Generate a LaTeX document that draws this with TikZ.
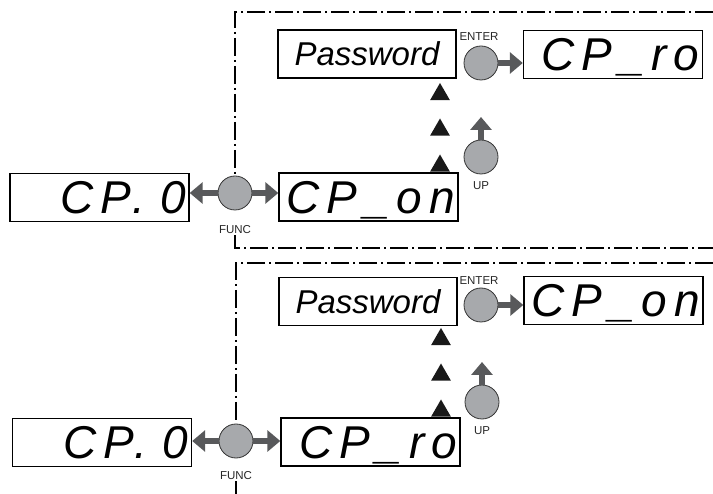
\documentclass[tikz,border=0pt]{standalone}
\usepackage{fontspec}
\setmainfont{Liberation Sans}
\newfontfamily\segfont[LetterSpace=15]{Liberation Sans}
\usetikzlibrary{arrows.meta,shapes.geometric}
\definecolor{btngray}{HTML}{A7A9AC}
\definecolor{arrowgray}{HTML}{58595B}

\begin{document}
\begin{tikzpicture}[x=1pt,y=-1pt,
	display/.style={draw,rectangle,line width=1.4pt,minimum width=179pt,minimum height=48pt,inner sep=3pt,text width=173pt,align=right,text height=33pt,text depth=0pt,font=\segfont\itshape\fontsize{46}{46}\selectfont},
	pwbox/.style={draw,rectangle,line width=1.4pt,minimum width=178pt,minimum height=48pt,font=\itshape\fontsize{33}{33}\selectfont},
	button/.style={draw=black!80,circle,line width=0.8pt,fill=btngray,minimum size=34pt,inner sep=0pt},
	btnlabel/.style={inner sep=1pt,text=black!85,font=\fontsize{11.5}{13}\selectfont},
	uptri/.style={regular polygon,regular polygon sides=3,fill=black!90,inner sep=0pt,minimum size=23pt},
	push/.style={draw=arrowgray,line width=5.5pt,-{Triangle[width=21pt,length=13pt]}},
	panelframe/.style={line width=1.2pt,dash pattern=on 18pt off 4pt on 2pt off 4pt}]
	\useasboundingbox (0,0) rectangle (713,494);

	\node[display] (CPzeroA) at (99.5,197.5) {CP. 0};
	\node[button] (FuncA) at (235,193) {};
	\node[btnlabel] (FuncLblA) at (235,230) {FUNC};
	\node[display] (CPonA) at (368.5,197) {CP\_on};
	\node[uptri] (triA1) at (440,94.5) {};
	\node[uptri] (triA2) at (440,130) {};
	\node[uptri] (triA3) at (440,166) {};
	\node[button] (UpA) at (481,157) {};
	\coordinate (UpTipA) at (481,117);
	\node[btnlabel] (UpLblA) at (481,186) {UP};
	\node[pwbox] (PassA) at (367,54) {Password};
	\node[button] (EnterA) at (481,63) {};
	\node[btnlabel] (EnterLblA) at (479,37) {ENTER};
	\node[display] (CProA) at (613,54.5) {CP\_ro};

	\draw[panelframe] (713,12) -- (235,12) -- (FuncA.north);
	\draw[panelframe] (FuncLblA.south) -- (235,248) -- (713,248);
	\draw[push] (FuncA.west) -- (FuncA.west -| CPzeroA.east);
	\draw[push] (FuncA.east) -- (FuncA.east -| CPonA.west);
	\draw[push] (UpA.north) -- (UpTipA);
	\draw[push] (EnterA.east) -- (EnterA.east -| CProA.west);

	\node[display] (CPzeroB) at (102,442.5) {CP. 0};
	\node[button] (FuncB) at (236,441) {};
	\node[btnlabel] (FuncLblB) at (236,476) {FUNC};
	\node[display] (CProB) at (370.5,442) {CP\_ro};
	\node[uptri] (triB1) at (441,339.5) {};
	\node[uptri] (triB2) at (441,375) {};
	\node[uptri] (triB3) at (441,411) {};
	\node[button] (UpB) at (482,402) {};
	\coordinate (UpTipB) at (482,362);
	\node[btnlabel] (UpLblB) at (482,431) {UP};
	\node[pwbox] (PassB) at (368,301.5) {Password};
	\node[button] (EnterB) at (481,305) {};
	\node[btnlabel] (EnterLblB) at (479,281) {ENTER};
	\node[display] (CPonB) at (613.5,300.5) {CP\_on};

	\draw[panelframe] (713,263) -- (236,263) -- (FuncB.north);
	\draw[panelframe] (FuncLblB.south) -- (236,494);
	\draw[push] (FuncB.west) -- (FuncB.west -| CPzeroB.east);
	\draw[push] (FuncB.east) -- (FuncB.east -| CProB.west);
	\draw[push] (UpB.north) -- (UpTipB);
	\draw[push] (EnterB.east) -- (EnterB.east -| CPonB.west);
\end{tikzpicture}
\end{document}
